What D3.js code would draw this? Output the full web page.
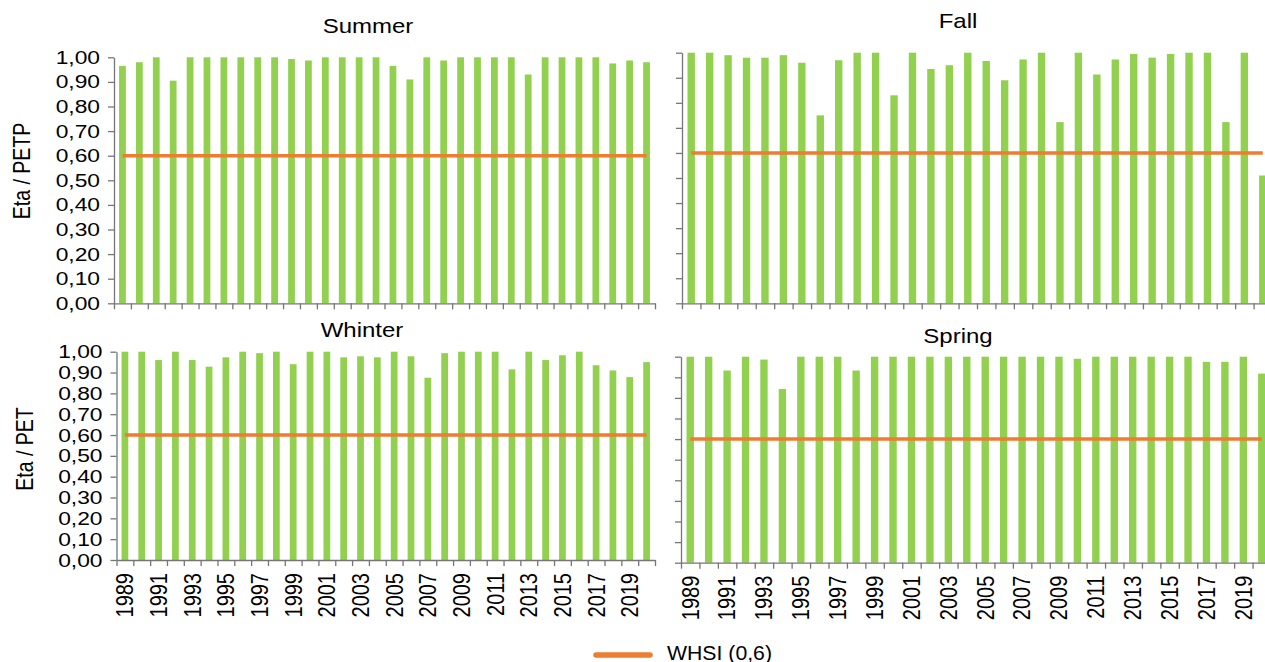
<!DOCTYPE html>
<html>
<head>
<meta charset="utf-8">
<script src="https://cdn.jsdelivr.net/npm/d3@7"></script>
<style>
  html, body { margin: 0; padding: 0; background: #fff; }
  svg { display: block; }
  text { font-family: "Liberation Sans", Arial, sans-serif; fill: #000; }
</style>
</head>
<body>
<svg id="chart" width="1265" height="662"></svg>
<script>
// ---- data -------------------------------------------------------------
const years = [1989, 1990, 1991, 1992, 1993, 1994, 1995, 1996, 1997, 1998,
               1999, 2000, 2001, 2002, 2003, 2004, 2005, 2006, 2007, 2008,
               2009, 2010, 2011, 2012, 2013, 2014, 2015, 2016, 2017, 2018,
               2019, 2020];

const summer = [0.965, 0.980, 1.000, 0.905, 1.000, 1.000, 1.000, 1.000, 1.000, 1.000,
                0.993, 0.987, 1.000, 1.000, 1.000, 1.000, 0.965, 0.910, 1.000, 0.987,
                1.000, 1.000, 1.000, 1.000, 0.930, 1.000, 1.000, 1.000, 1.000, 0.975,
                0.987, 0.980];

const fall = [1.000, 1.000, 0.990, 0.980, 0.980, 0.990, 0.960, 0.750, 0.970, 1.000,
              1.000, 0.830, 1.000, 0.935, 0.950, 1.000, 0.967, 0.890, 0.973, 1.000,
              0.723, 1.000, 0.913, 0.973, 0.995, 0.980, 0.995, 1.000, 1.000, 0.723,
              1.000, 0.510];

const whinter = [1.000, 1.000, 0.960, 1.000, 0.960, 0.928, 0.973, 1.000, 0.993, 1.000,
                 0.940, 1.000, 1.000, 0.973, 0.978, 0.973, 1.000, 0.978, 0.875, 0.993,
                 1.000, 1.000, 1.000, 0.915, 1.000, 0.960, 0.983, 1.000, 0.935, 0.910,
                 0.878, 0.950];

const spring = [1.000, 1.000, 0.933, 1.000, 0.986, 0.843, 1.000, 1.000, 1.000, 0.933,
                1.000, 1.000, 1.000, 1.000, 1.000, 1.000, 1.000, 1.000, 1.000, 1.000,
                1.000, 0.990, 1.000, 1.000, 1.000, 1.000, 1.000, 1.000, 0.975, 0.975,
                1.000, 0.918];

const yTicks = [0, 0.1, 0.2, 0.3, 0.4, 0.5, 0.6, 0.7, 0.8, 0.9, 1.0];
const yearLabels = [1989, 1991, 1993, 1995, 1997, 1999, 2001, 2003,
                    2005, 2007, 2009, 2011, 2013, 2015, 2017, 2019];
const whsi = 0.6;
const whsiLabel = "WHSI (0,6)";
const panelTitles = ["Summer", "Fall", "Whinter", "Spring"];
const yTitles = ["Eta / PETP", "Eta / PET"];

// ---- styling ----------------------------------------------------------
const BAR = "#92D050";
const LINE = "#ED7D31";
const AXIS = "#767676";
const STRETCH = 1.2;   // the labels are set a little wide

const svg = d3.select("#chart");
const commaFmt = d3.formatLocale({ decimal: ",", thousands: ".", grouping: [3], currency: ["", ""] }).format(".2f");

const panels = [
  { title: panelTitles[0], values: summer,  box: { l: 114,   r: 655,  t: 57.3,  b: 303.3 }, tx: 368, ty: 33,    yLab: true,  xLab: false },
  { title: panelTitles[1], values: fall,    box: { l: 682,   r: 1272, t: 52.7,  b: 303.3 }, tx: 958, ty: 27.7,  yLab: false, xLab: false },
  { title: panelTitles[2], values: whinter, box: { l: 116.5, r: 655,  t: 351.7, b: 560   }, tx: 362, ty: 336.7, yLab: true,  xLab: true  },
  { title: panelTitles[3], values: spring,  box: { l: 681,   r: 1271, t: 356.7, b: 562.7 }, tx: 958, ty: 343.3, yLab: false, xLab: true  }
];

panels.forEach(p => {
  const { l, r, t, b } = p.box;
  const g = svg.append("g");

  const x = d3.scaleBand().domain(years).range([l, r]).paddingInner(0.6).paddingOuter(0.3);
  const y = d3.scaleLinear().domain([0, 1]).range([b, t]);
  const rows = years.map((yr, i) => ({ year: yr, v: p.values[i] }));

  // bars
  g.append("g").selectAll("rect").data(rows).join("rect")
    .attr("x", d => x(d.year))
    .attr("width", x.bandwidth())
    .attr("y", d => y(d.v))
    .attr("height", d => y(0) - y(d.v))
    .attr("fill", BAR);

  // WHSI threshold line, centre of first year to centre of last year
  const line = d3.line().x(d => x(d.year) + x.bandwidth() / 2).y(() => y(whsi));
  g.append("path").datum(rows)
    .attr("d", line)
    .attr("fill", "none")
    .attr("stroke", LINE)
    .attr("stroke-width", 3.5);

  // y axis
  const yAxis = d3.axisLeft(y).tickValues(yTicks).tickSize(6).tickSizeOuter(0).tickPadding(8)
    .tickFormat(p.yLab ? commaFmt : "");
  const ya = g.append("g").attr("transform", `translate(${l},0)`).call(yAxis);
  ya.selectAll("path, line").attr("stroke", AXIS).attr("stroke-width", 1.3);
  ya.selectAll("text")
    .attr("font-size", 19)
    .attr("font-family", "Liberation Sans, Arial, sans-serif")
    .attr("fill", "#000")
    .attr("dy", "0.32em")
    .attr("x", -14 / STRETCH)
    .attr("transform", `scale(${STRETCH},1)`);

  // x axis: ticks on the year boundaries
  const xb = d3.scaleLinear().domain([0, years.length]).range([l, r]);
  const xAxis = d3.axisBottom(xb).tickValues(d3.range(years.length + 1)).tickFormat("")
    .tickSize(6).tickSizeOuter(0);
  const xa = g.append("g").attr("transform", `translate(0,${b})`).call(xAxis);
  xa.selectAll("path, line").attr("stroke", AXIS).attr("stroke-width", 1.3);

  // year labels under the bottom row
  if (p.xLab) {
    const labAxis = d3.axisBottom(x).tickValues(yearLabels).tickSize(0).tickPadding(0);
    const la = g.append("g").attr("transform", `translate(0,${b})`).call(labAxis);
    la.select(".domain").remove();
    la.selectAll("text")
      .attr("font-size", 20)
      .attr("font-family", "Liberation Sans, Arial, sans-serif")
      .attr("fill", "#000")
      .attr("x", 0).attr("y", 0)
      .attr("dy", "0.35em")
      .attr("text-anchor", "end")
      .attr("transform", `translate(0,13) rotate(-90) scale(1,${STRETCH})`);
  }

  // panel title
  g.append("text")
    .attr("text-anchor", "middle")
    .attr("font-size", 20)
    .attr("transform", `translate(${p.tx},${p.ty}) scale(${STRETCH},1)`)
    .text(p.title);
});

// y axis titles
const yTitlePos = [{ x: 22, y: 171 }, { x: 25, y: 449 }];
yTitles.forEach((s, i) => {
  svg.append("text")
    .attr("text-anchor", "middle")
    .attr("font-size", 19.5)
    .attr("dy", "0.35em")
    .attr("transform", `translate(${yTitlePos[i].x},${yTitlePos[i].y}) rotate(-90) scale(1,${STRETCH})`)
    .text(s);
});

// legend
const lg = svg.append("g");
lg.append("line")
  .attr("x1", 596).attr("x2", 650).attr("y1", 655).attr("y2", 655)
  .attr("stroke", LINE).attr("stroke-width", 5.5).attr("stroke-linecap", "round");
lg.append("text")
  .attr("x", 667).attr("y", 659.5)
  .attr("font-family", "Open Sans, sans-serif")
  .attr("font-size", 19.5)
  .attr("textLength", 105)
  .attr("lengthAdjust", "spacingAndGlyphs")
  .text(whsiLabel);
</script>
</body>
</html>
